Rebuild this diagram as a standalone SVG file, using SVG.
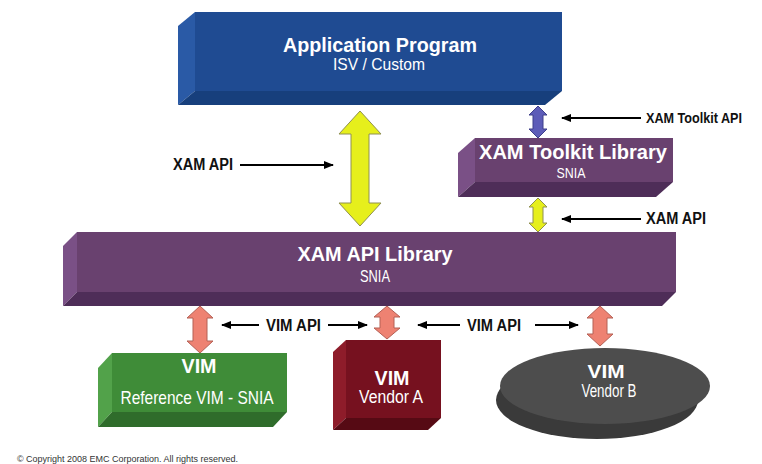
<svg xmlns="http://www.w3.org/2000/svg" width="762" height="464" viewBox="0 0 762 464">
<style>
text{font-family:"Liberation Sans",Arial,sans-serif}
.t{fill:#fff;font-weight:bold;text-anchor:middle}
.s{fill:#fff;text-anchor:middle}
.l{fill:#111;font-weight:bold;font-size:16px}
.ln{stroke:#000;stroke-width:2;fill:none}
.ya{fill:#e6ef1c;stroke:#8f9050;stroke-width:1}
.pa{fill:#5d5cb8;stroke:#3f3f8a;stroke-width:1}
.sa{fill:#ee8272;stroke:#b46055;stroke-width:1}
</style>
<defs>
<marker id="ah" viewBox="0 0 10 10" refX="9" refY="5" markerWidth="5" markerHeight="5" orient="auto-start-reverse" markerUnits="strokeWidth">
<path d="M0,1 L10,5 L0,9 Z" fill="#000"/>
</marker>
</defs>
<rect width="762" height="464" fill="#fff"/>

<g id="app">
<polygon points="195,12 178,26 178,105 195,91" fill="#2a5aa6"/>
<polygon points="195,91 562,91 545,105 178,105" fill="#173f7c"/>
<rect x="195" y="12" width="367" height="79" fill="#1f4b92"/>
<text class="t" x="380" y="52" font-size="21" textLength="194" lengthAdjust="spacingAndGlyphs">Application Program</text>
<text class="s" x="379" y="70" font-size="17" textLength="92" lengthAdjust="spacingAndGlyphs">ISV / Custom</text>
</g>

<g id="toolkit">
<polygon points="475,138 458,153 458,197 475,182" fill="#7a5086"/>
<polygon points="475,182 673,182 656,197 458,197" fill="#4e2d58"/>
<rect x="475" y="138" width="198" height="44" fill="#69416f"/>
<text class="t" x="573" y="159" font-size="21" textLength="188" lengthAdjust="spacingAndGlyphs">XAM Toolkit Library</text>
<text class="s" x="571" y="178" font-size="15" textLength="29" lengthAdjust="spacingAndGlyphs">SNIA</text>
</g>

<g id="apilib">
<polygon points="77,232 63,246 63,306 77,292" fill="#7a5086"/>
<polygon points="77,292 676,292 662,306 63,306" fill="#4e2d58"/>
<rect x="77" y="232" width="599" height="60" fill="#69416f"/>
<text class="t" x="375" y="261" font-size="21" textLength="155" lengthAdjust="spacingAndGlyphs">XAM API Library</text>
<text class="s" x="375" y="282" font-size="16" textLength="30" lengthAdjust="spacingAndGlyphs">SNIA</text>
</g>

<g id="vimref">
<polygon points="112,353 98,368 98,427 112,412" fill="#52a24a"/>
<polygon points="112,412 287,412 273,427 98,427" fill="#2f6c2b"/>
<rect x="112" y="353" width="175" height="59" fill="#3f8c38"/>
<text class="t" x="199" y="373" font-size="21" textLength="35" lengthAdjust="spacingAndGlyphs">VIM</text>
<text class="s" x="197" y="404" font-size="19" textLength="153" lengthAdjust="spacingAndGlyphs">Reference VIM - SNIA</text>
</g>

<g id="vima">
<polygon points="346,340 333,352 333,430 346,418" fill="#8e1c2a"/>
<polygon points="346,418 441,418 428,430 333,430" fill="#560a14"/>
<rect x="346" y="340" width="95" height="78" fill="#76111f"/>
<text class="t" x="392" y="385" font-size="20" textLength="35" lengthAdjust="spacingAndGlyphs">VIM</text>
<text class="s" x="391" y="403" font-size="18" textLength="64" lengthAdjust="spacingAndGlyphs">Vendor A</text>
</g>

<g id="vimb">
<ellipse cx="597" cy="400" rx="101" ry="39" fill="#3a3a3a"/>
<ellipse cx="605" cy="386" rx="105" ry="38" fill="#4d4d4d"/>
<text class="t" x="606" y="378" font-size="19" textLength="37" lengthAdjust="spacingAndGlyphs">VIM</text>
<text class="s" x="609" y="397" font-size="18" textLength="55" lengthAdjust="spacingAndGlyphs">Vendor B</text>
</g>

<g id="connectors">
<path class="ya" d="M360,111 L381,134 L369,134 L369,203 L381,203 L360,226 L339,203 L351,203 L351,134 L339,134 Z"/>
<path class="pa" d="M538,106 L547,115 L543,115 L543,129 L547,129 L538,138 L529,129 L533,129 L533,115 L529,115 Z"/>
<path class="ya" d="M538,198 L547,207 L543,207 L543,223 L547,223 L538,232 L529,223 L533,223 L533,207 L529,207 Z"/>
<path class="sa" d="M200,306 L213,318 L207,318 L207,341 L213,341 L200,353 L187,341 L193,341 L193,318 L187,318 Z"/>
<path class="sa" d="M387,306 L400,317 L394,317 L394,328 L400,328 L387,339 L374,328 L380,328 L380,317 L374,317 Z"/>
<path class="sa" d="M600,306 L613,318 L607,318 L607,334 L613,334 L600,346 L587,334 L593,334 L593,318 L587,318 Z"/>
<line class="ln" x1="240" y1="165" x2="333" y2="165" marker-end="url(#ah)"/>
<line class="ln" x1="641" y1="118" x2="562" y2="118" marker-end="url(#ah)"/>
<line class="ln" x1="641" y1="219" x2="562" y2="219" marker-end="url(#ah)"/>
<line class="ln" x1="259" y1="325" x2="222" y2="325" marker-end="url(#ah)"/>
<line class="ln" x1="328" y1="325" x2="367" y2="325" marker-end="url(#ah)"/>
<line class="ln" x1="460" y1="325" x2="418" y2="325" marker-end="url(#ah)"/>
<line class="ln" x1="535" y1="325" x2="578" y2="325" marker-end="url(#ah)"/>
</g>

<text class="l" x="173" y="170" textLength="60" lengthAdjust="spacingAndGlyphs">XAM API</text>
<text class="l" x="646" y="123" font-size="14" style="font-size:14px" textLength="96" lengthAdjust="spacingAndGlyphs">XAM Toolkit API</text>
<text class="l" x="646" y="224" textLength="60" lengthAdjust="spacingAndGlyphs">XAM API</text>
<text class="l" x="266" y="331" textLength="55" lengthAdjust="spacingAndGlyphs">VIM API</text>
<text class="l" x="467" y="331" textLength="54" lengthAdjust="spacingAndGlyphs">VIM API</text>
<text x="17" y="462" font-size="9" fill="#333" textLength="221" lengthAdjust="spacingAndGlyphs">© Copyright 2008 EMC Corporation. All rights reserved.</text>
</svg>
